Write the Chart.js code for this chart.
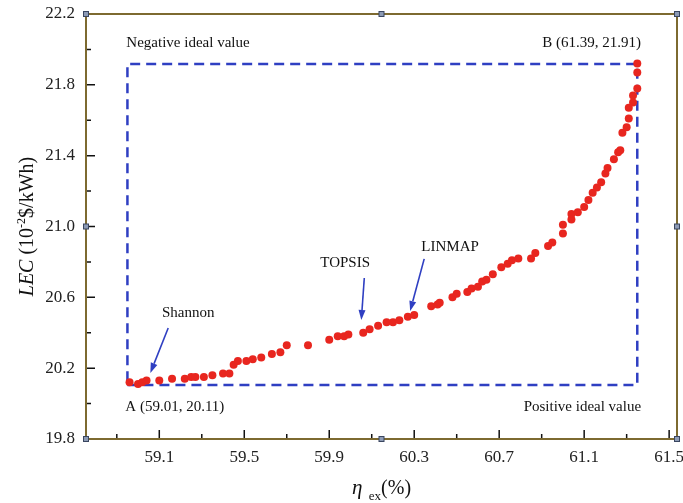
<!DOCTYPE html>
<html>
<head>
<meta charset="utf-8">
<script src="https://cdn.jsdelivr.net/npm/chart.js@4"></script>
<style>
  body { margin: 0; background: #fff; }
  canvas { display: block; }
</style>
</head>
<body>
<canvas id="paretoChart" width="683" height="503"></canvas>
<script>
// ==========================================
// DATA
// ==========================================
const etaEx = [
  58.96, 59.00, 59.02, 59.04, 59.10, 59.16, 59.22, 59.25, 59.27, 59.31,
  59.35, 59.40, 59.43, 59.45, 59.47, 59.51, 59.54, 59.58, 59.63, 59.67,
  59.70, 59.80, 59.90, 59.94, 59.97, 59.99, 60.06, 60.09, 60.13, 60.17,
  60.20, 60.23, 60.27, 60.30, 60.38, 60.41, 60.42, 60.48, 60.50, 60.55,
  60.57, 60.60, 60.62, 60.64, 60.67, 60.71, 60.74, 60.76, 60.79, 60.85,
  60.87, 60.93, 60.95, 61.00, 61.00, 61.04, 61.04, 61.07, 61.10, 61.12,
  61.14, 61.16, 61.18, 61.20, 61.21, 61.24, 61.26, 61.27, 61.28, 61.30,
  61.31, 61.31, 61.33, 61.33, 61.35, 61.35, 61.35
];
const lec = [
  20.12, 20.11, 20.12, 20.13, 20.13, 20.14, 20.14, 20.15, 20.15, 20.15,
  20.16, 20.17, 20.17, 20.22, 20.24, 20.24, 20.25, 20.26, 20.28, 20.29,
  20.33, 20.33, 20.36, 20.38, 20.38, 20.39, 20.40, 20.42, 20.44, 20.46,
  20.46, 20.47, 20.49, 20.50, 20.55, 20.56, 20.57, 20.60, 20.62, 20.63,
  20.65, 20.66, 20.69, 20.70, 20.73, 20.77, 20.79, 20.81, 20.82, 20.82,
  20.85, 20.89, 20.91, 20.96, 21.01, 21.04, 21.07, 21.08, 21.11, 21.15,
  21.19, 21.22, 21.25, 21.30, 21.33, 21.38, 21.42, 21.43, 21.53, 21.56,
  21.61, 21.67, 21.70, 21.74, 21.78, 21.87, 21.92
];

// dashed box between the positive and negative ideal points
const boxX = [58.95, 61.35, 61.35, 58.95, 58.95];
const boxY = [20.105, 20.105, 21.918, 21.918, 20.105];

const xTicks = [59.1, 59.5, 59.9, 60.3, 60.7, 61.1, 61.5];
const yTicks = [19.8, 20.2, 20.6, 21.0, 21.4, 21.8, 22.2];

// text labels: [text, x, y, align]
const labels = [
  ['Negative ideal value', 58.945, 22.036, 'left'],
  ['B (61.39, 21.91)', 61.368, 22.036, 'right'],
  ['A (59.01, 20.11)', 58.94, 19.981, 'left'],
  ['Positive ideal value', 61.368, 19.981, 'right'],
  ['Shannon', 59.236, 20.512, 'center'],
  ['TOPSIS', 59.975, 20.794, 'center'],
  ['LINMAP', 60.469, 20.884, 'center']
];
// arrows: [fromX, fromY, toX, toY]
const arrows = [
  [59.142, 20.427, 59.058, 20.173],
  [60.065, 20.709, 60.051, 20.472],
  [60.347, 20.817, 60.281, 20.523]
];

const SERIF = '"Liberation Serif", "Times New Roman", serif';
const FRAME = '#7d6a30';
const BLUE = '#2f3fc2';

// ==========================================
// FRAME, INWARD TICKS, TITLES, ANNOTATIONS
// ==========================================
const decorPlugin = {
  id: 'decor',
  afterDatasetsDraw(chart) {
    const ctx = chart.ctx;
    const xs = chart.scales.x, ys = chart.scales.y;
    const a = chart.chartArea;
    ctx.save();

    // labels
    ctx.fillStyle = '#111';
    ctx.font = '15px ' + SERIF;
    ctx.textBaseline = 'middle';
    labels.forEach(([t, x, y, al]) => {
      ctx.textAlign = al;
      ctx.fillText(t, xs.getPixelForValue(x), ys.getPixelForValue(y));
    });

    // arrows
    ctx.strokeStyle = BLUE;
    ctx.fillStyle = BLUE;
    ctx.lineWidth = 1.6;
    arrows.forEach(([x0, y0, x1, y1]) => {
      const px0 = xs.getPixelForValue(x0), py0 = ys.getPixelForValue(y0);
      const px1 = xs.getPixelForValue(x1), py1 = ys.getPixelForValue(y1);
      const ang = Math.atan2(py1 - py0, px1 - px0);
      const hl = 10, hw = 3.5;
      const bx = px1 - hl * Math.cos(ang), by = py1 - hl * Math.sin(ang);
      ctx.beginPath();
      ctx.moveTo(px0, py0);
      ctx.lineTo(bx, by);
      ctx.stroke();
      ctx.beginPath();
      ctx.moveTo(px1, py1);
      ctx.lineTo(bx + hw * Math.sin(ang), by - hw * Math.cos(ang));
      ctx.lineTo(bx - hw * Math.sin(ang), by + hw * Math.cos(ang));
      ctx.closePath();
      ctx.fill();
    });

    // inward ticks
    ctx.strokeStyle = '#111';
    ctx.lineWidth = 1.5;
    ctx.beginPath();
    for (let v = 58.9; v < 61.55; v += 0.2) {
      const px = xs.getPixelForValue(v);
      const major = xTicks.some(t => Math.abs(t - v) < 0.01);
      ctx.moveTo(px, a.bottom);
      ctx.lineTo(px, a.bottom - (major ? 9 : 5));
    }
    for (let v = 19.8; v < 22.25; v += 0.2) {
      const py = ys.getPixelForValue(v);
      const major = yTicks.some(t => Math.abs(t - v) < 0.01);
      ctx.moveTo(a.left, py);
      ctx.lineTo(a.left + (major ? 9 : 5), py);
    }
    ctx.stroke();

    // frame
    ctx.strokeStyle = FRAME;
    ctx.lineWidth = 2;
    ctx.strokeRect(a.left, a.top, a.right - a.left, a.bottom - a.top);

    // small handles on frame
    const mx = (a.left + a.right) / 2, my = (a.top + a.bottom) / 2;
    [[a.left, a.top], [mx, a.top], [a.right, a.top], [a.left, my], [a.right, my],
     [a.left, a.bottom], [mx, a.bottom], [a.right, a.bottom]].forEach(([hx, hy]) => {
      ctx.fillStyle = '#8c9ab4';
      ctx.strokeStyle = '#3a4660';
      ctx.lineWidth = 1;
      ctx.fillRect(hx - 2.5, hy - 2.5, 5, 5);
      ctx.strokeRect(hx - 2.5, hy - 2.5, 5, 5);
    });

    // y title: LEC (10^-2 $/kWh)
    const parts = [
      ['LEC', 'italic 20px ' + SERIF, 0],
      [' (10', '20px ' + SERIF, 0],
      ['-2', '12px ' + SERIF, -8],
      ['$/kWh)', '20px ' + SERIF, 0]
    ];
    ctx.fillStyle = '#111';
    ctx.textAlign = 'left';
    ctx.textBaseline = 'alphabetic';
    let total = 0;
    parts.forEach(p => { ctx.font = p[1]; total += ctx.measureText(p[0]).width; });
    ctx.translate(33, (a.top + a.bottom) / 2);
    ctx.rotate(-Math.PI / 2);
    let cx = -total / 2;
    parts.forEach(p => {
      ctx.font = p[1];
      ctx.fillText(p[0], cx, p[2]);
      cx += ctx.measureText(p[0]).width;
    });
    ctx.setTransform(1, 0, 0, 1, 0, 0);

    // x title: eta_ex (%)
    const xp = [
      ['\u03B7', 'italic 21px ' + SERIF, 0],
      ['  ex', '13px ' + SERIF, 6],
      ['(%)', '20px ' + SERIF, 0]
    ];
    total = 0;
    xp.forEach(p => { ctx.font = p[1]; total += ctx.measureText(p[0]).width; });
    cx = (a.left + a.right) / 2 - total / 2;
    xp.forEach(p => {
      ctx.font = p[1];
      ctx.fillText(p[0], cx, 494 + p[2]);
      cx += ctx.measureText(p[0]).width;
    });

    ctx.restore();
  }
};

// ==========================================
// CHART
// ==========================================
const ctx = document.getElementById('paretoChart');
new Chart(ctx.getContext('2d'), {
  type: 'scatter',
  data: {
    datasets: [
      {
        label: 'Pareto front',
        data: etaEx.map((x, i) => ({ x: x, y: lec[i] })),
        backgroundColor: '#e8261f',
        borderColor: '#e8261f',
        pointRadius: 4,
        pointBorderWidth: 0,
        order: 0
      },
      {
        label: 'Ideal box',
        data: boxX.map((x, i) => ({ x: x, y: boxY[i] })),
        showLine: true,
        borderColor: BLUE,
        borderWidth: 2.5,
        borderDash: [10, 6],
        pointRadius: 0,
        fill: false,
        order: 1
      }
    ]
  },
  options: {
    responsive: false,
    animation: false,
    devicePixelRatio: 1,
    layout: { padding: { top: 14, right: 6, left: 0, bottom: 0 } },
    plugins: { legend: { display: false }, tooltip: { enabled: false } },
    scales: {
      x: {
        type: 'linear',
        min: 58.755,
        max: 61.537,
        afterBuildTicks: s => { s.ticks = xTicks.map(v => ({ value: v })); },
        afterFit: s => { s.height = 64; s.paddingLeft = 0; s.paddingRight = 0; },
        grid: { display: false, drawTicks: false },
        border: { display: false },
        ticks: {
          padding: 8,
          color: '#222',
          font: { family: SERIF, size: 17 },
          maxRotation: 0,
          callback: v => v.toFixed(1)
        }
      },
      y: {
        type: 'linear',
        min: 19.8,
        max: 22.2,
        afterBuildTicks: s => { s.ticks = yTicks.map(v => ({ value: v })); },
        afterFit: s => { s.width = 86; s.paddingTop = 0; s.paddingBottom = 0; },
        grid: { display: false, drawTicks: false },
        border: { display: false },
        ticks: {
          padding: 11,
          color: '#222',
          font: { family: SERIF, size: 17 },
          callback: v => v.toFixed(1)
        }
      }
    }
  },
  plugins: [decorPlugin]
});
</script>
</body>
</html>
